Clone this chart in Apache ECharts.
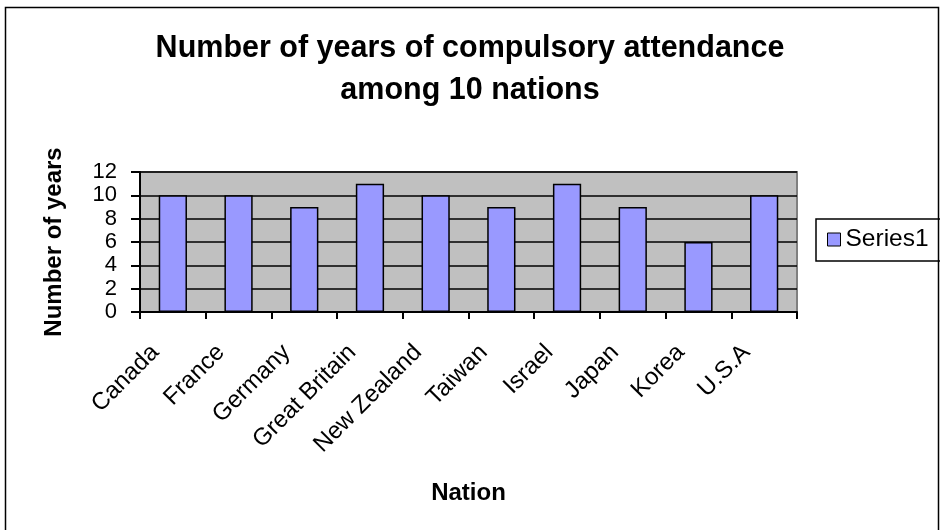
<!DOCTYPE html>
<html lang="en">
<head>
<meta charset="UTF-8">
<title>Compulsory attendance</title>
<style>
    * { margin: 0; padding: 0; }
    #chart { width: 940px; height: 530px; background: #fff; }
</style>
<script src="https://cdn.jsdelivr.net/npm/echarts@6/dist/echarts.min.js"></script>
</head>
<body>
<div id="chart"></div>
<script>
var nations = ['Canada', 'France', 'Germany', 'Great Britain', 'New Zealand', 'Taiwan', 'Israel', 'Japan', 'Korea', 'U.S.A'];
var years = [10, 10, 9, 11, 10, 9, 11, 9, 6, 10];
var yTicks = [0, 2, 4, 6, 8, 10, 12];

var font = 'Liberation Sans, Arial, sans-serif';
var chart = echarts.init(document.getElementById('chart'));

var option = {
    animation: false,
    textStyle: { fontFamily: font },
    title: {
        text: 'Number of years of compulsory attendance\namong 10 nations',
        left: 'center',
        top: 23,
        textStyle: { fontSize: 30.5, fontWeight: 'bold', color: '#000', lineHeight: 42 }
    },
    graphic: [{
        type: 'rect', // outer border
        shape: { x: 5.5, y: 7.5, width: 933, height: 540 },
        style: { fill: null, stroke: '#000', lineWidth: 1.5 },
        z: 0
    }],
    legend: {
        left: 816,
        top: 219,
        padding: [8, 60, 9, 11],
        borderColor: '#000',
        borderWidth: 1.5,
        itemWidth: 13,
        itemHeight: 13,
        itemGap: 6,
        icon: 'rect',
        textStyle: { fontSize: 24.5, color: '#000', fontFamily: font },
        itemStyle: { borderColor: '#000', borderWidth: 1 }
    },
    grid: { left: 140, right: 143, top: 172, bottom: 218, show: true, backgroundColor: '#c0c0c0', borderColor: '#808080', borderWidth: 2 },
    xAxis: {
        type: 'category',
        data: nations,
        name: 'Nation',
        nameLocation: 'middle',
        nameGap: 169,
        nameTextStyle: { fontSize: 24, fontWeight: 'bold', color: '#000' },
        axisLine: { lineStyle: { color: '#000', width: 2 } },
        axisTick: { show: true, length: 7, lineStyle: { color: '#000', width: 2 } },
        axisLabel: { rotate: 45, fontSize: 24, color: '#000', margin: 19, padding: [0, 25, 0, 0], interval: 0 }
    },
    yAxis: {
        type: 'value',
        min: yTicks[0],
        max: yTicks[yTicks.length - 1],
        interval: 2,
        name: 'Number of years',
        nameLocation: 'middle',
        nameGap: 74,
        nameTextStyle: { fontSize: 24, fontWeight: 'bold', color: '#000' },
        axisLine: { show: true, lineStyle: { color: '#000', width: 2 } },
        axisTick: { show: true, length: 9, lineStyle: { color: '#000', width: 2 } },
        axisLabel: { fontSize: 22, color: '#000', margin: 23 },
        splitLine: { show: true, lineStyle: { color: '#000', width: 1.5 } }
    },
    series: [{
        name: 'Series1',
        type: 'bar',
        data: years,
        barWidth: '43%',
        itemStyle: { color: '#9999ff', borderColor: '#000', borderWidth: 1.5 }
    }]
};
chart.setOption(option);
</script>
</body>
</html>
